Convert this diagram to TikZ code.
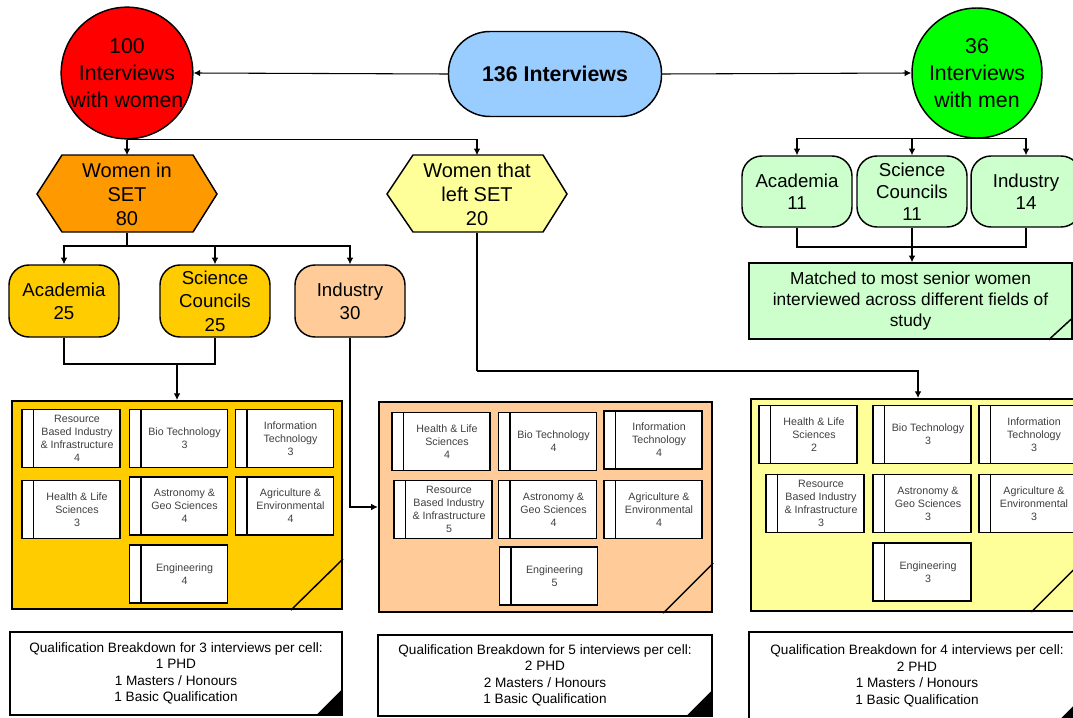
\documentclass[tikz,border=0pt]{standalone}
\usepackage{fontspec}
\setmainfont{Liberation Sans}
\usetikzlibrary{arrows.meta,calc}
\definecolor{cred}{HTML}{FF0000}
\definecolor{cgreen}{HTML}{00FF00}
\definecolor{cblue}{HTML}{99CCFF}
\definecolor{corange}{HTML}{FF9900}
\definecolor{cgold}{HTML}{FFCC00}
\definecolor{cpeach}{HTML}{FFCC99}
\definecolor{cyel}{HTML}{FFFF99}
\definecolor{cmint}{HTML}{CCFFCC}
\definecolor{ctext}{HTML}{404040}
\tikzset{
 conn/.style={draw=black, line width=0.8pt},
 arr/.style={conn, -{Latex[length=5pt,width=5pt]}},
 bigcirc/.style={circle, draw, line width=1.1pt, minimum size=97.5pt, inner sep=0pt, align=center, font=\fontsize{16}{20}\selectfont},
 roundbox/.style={rectangle, rounded corners=15pt, draw, line width=1.1pt, minimum width=82.5pt, minimum height=54pt, inner sep=0pt, align=center, font=\fontsize{14}{17.5}\selectfont},
 hexshape/.style={draw, line width=1.1pt},
 hextext/.style={minimum width=135pt, minimum height=57.75pt, inner sep=0pt, align=center, font=\fontsize{15}{18}\selectfont},
 panelbox/.style={draw, line width=1.5pt, inner sep=0pt},
 cellbox/.style={draw, line width=0.8pt, fill=white, minimum width=73.5pt, minimum height=43.5pt, inner sep=0pt},
 celltext/.style={align=center, text=ctext, font=\fontsize{8}{9.75}\selectfont, inner sep=0pt},
 notebox/.style={draw, line width=1.1pt, fill=white, inner sep=0pt, align=center, font=\fontsize{10.2}{12.4}\selectfont},
 fold/.style={line width=1.1pt},
 stripe/.style={line width=1.3pt},
}
\newcommand\cell[4]{%
  \node[cellbox] (#1) at (#2,#3) {};
  \draw[stripe] ([xshift=9pt]#1.north west) -- ([xshift=9pt]#1.south west);
  \node[celltext] (#1t) at ([xshift=4.5pt]#1.center) {#4};
}
\begin{document}
\begin{tikzpicture}[x=0.75pt,y=-0.75pt]
\useasboundingbox (0,0) rectangle (1073,717);
% top level
\node[bigcirc, fill=cred] (women) at (127,73) {100\\Interviews\\with women};
\node[rectangle, rounded corners=31pt, draw, line width=1.1pt, fill=cblue, minimum width=159.75pt, minimum height=63.75pt, inner sep=0pt, font=\bfseries\fontsize{16}{20}\selectfont] (total) at (555,74) {136 Interviews};
\node[bigcirc, fill=cgreen] (men) at (977,73) {36\\Interviews\\with men};
% hexagons
\draw[hexshape, fill=corange] (37,194) -- (62,155) -- (193,155) -- (217,194) -- (193,232) -- (62,232) -- cycle;
\node[hextext] (wset) at (127,194) {Women in\\SET\\80};
\draw[hexshape, fill=cyel] (387,194) -- (413,155) -- (543,155) -- (567,194) -- (543,232) -- (413,232) -- cycle;
\node[hextext] (wleft) at (477,194) {Women that\\left SET\\20};
% women sectors
\node[roundbox, fill=cgold] (acad) at (64,301) {Academia\\25};
\node[roundbox, fill=cgold] (sci) at (215,301) {Science\\Councils\\25};
\node[roundbox, fill=cpeach] (ind) at (350,301) {Industry\\30};
% men sectors
\node[roundbox, fill=cmint, minimum height=53.25pt, font=\fontsize{14}{16.5}\selectfont] (mac) at (797,191.5) {Academia\\11};
\node[roundbox, fill=cmint, minimum height=53.25pt, font=\fontsize{14}{16.5}\selectfont] (msci) at (912,191.5) {Science\\Councils\\11};
\node[roundbox, fill=cmint, minimum height=53.25pt, font=\fontsize{14}{16.5}\selectfont] (mind) at (1026,191.5) {Industry\\14};
\node[rectangle, draw, line width=1.1pt, fill=cmint, minimum width=242.25pt, minimum height=57pt, inner sep=0pt, align=center, font=\fontsize{13}{16}\selectfont] (match) at (910.5,301) {Matched to most senior women\\interviewed across different fields of\\study};
\draw[fold] ([xshift=-18pt]match.south east) -- ([yshift=16.5pt]match.south east);
% panels
\node[panelbox, fill=cgold, minimum width=247.5pt, minimum height=156pt] (lpanel) at (177,505) {};
\node[panelbox, fill=cpeach, line width=1.8pt, minimum width=249.75pt, minimum height=157.5pt] (mpanel) at (545.5,507) {};
\node[panelbox, fill=cyel, minimum width=250.5pt, minimum height=159pt] (rpanel) at (918,505) {};
\draw[fold] ([xshift=-39pt]lpanel.south east) -- ([yshift=38.25pt]lpanel.south east);
\draw[fold] ([xshift=-37.5pt]mpanel.south east) -- ([yshift=37.5pt]mpanel.south east);
\draw[fold] ([xshift=-41pt]rpanel.south east) -- ([yshift=41pt]rpanel.south east);
% left cells
\cell{l1}{71}{438.5}{Resource\\Based Industry\\\& Infrastructure\\4}
\cell{l2}{178.5}{438.5}{Bio Technology\\3}
\cell{l3}{284.5}{438.5}{Information\\Technology\\3}
\cell{l4}{71}{509.5}{Health \& Life\\Sciences\\3}
\cell{l5}{178.5}{506}{Astronomy \&\\Geo Sciences\\4}
\cell{l6}{284.5}{506}{Agriculture \&\\Environmental\\4}
\cell{l7}{178.5}{574}{Engineering\\4}
% middle cells
\cell{m1}{441}{441.5}{Health \& Life\\Sciences\\4}
\cell{m2}{547.5}{441.5}{Bio Technology\\4}
\cell{m3}{653}{440}{Information\\Technology\\4}
\cell{m4}{443}{509.5}{Resource\\Based Industry\\\& Infrastructure\\5}
\cell{m5}{547.5}{509.5}{Astronomy \&\\Geo Sciences\\4}
\cell{m6}{653}{509.5}{Agriculture \&\\Environmental\\4}
\cell{m7}{548.5}{576}{Engineering\\5}
% right cells
\cell{r1}{808}{434.5}{Health \& Life\\Sciences\\2}
\cell{r2}{922}{434.5}{Bio Technology\\3}
\cell{r3}{1028}{434.5}{Information\\Technology\\3}
\cell{r4}{815}{503.5}{Resource\\Based Industry\\\& Infrastructure\\3}
\cell{r5}{922}{503.5}{Astronomy \&\\Geo Sciences\\3}
\cell{r6}{1028}{503.5}{Agriculture \&\\Environmental\\3}
\cell{r7}{922}{572}{Engineering\\3}
% notes
\node[notebox, minimum width=249pt, minimum height=62.25pt] (nl) at (176,673.5) {Qualification Breakdown for 3 interviews per cell:\\1 PHD\\1 Masters / Honours\\1 Basic Qualification};
\node[notebox, minimum width=250.5pt, minimum height=60.75pt] (nm) at (545,675.5) {Qualification Breakdown for 5 interviews per cell:\\2 PHD\\2 Masters / Honours\\1 Basic Qualification};
\node[notebox, minimum width=252pt, minimum height=66pt] (nr) at (917,676) {Qualification Breakdown for 4 interviews per cell:\\2 PHD\\1 Masters / Honours\\1 Basic Qualification};
\foreach \n in {nl,nm,nr}{
  \fill ([xshift=-20.25pt]\n.south east) -- (\n.south east) -- ([yshift=20.25pt]\n.south east) -- cycle;
}
% connectors
\draw[arr] (total.west) -- (women.east);
\draw[arr] (total.east) -- (men.west);
\draw[arr] (women.south) -- (wset.north);
\draw[arr] (women.south) -| (wleft.north);
\coordinate (j1) at (127,246);
\draw[conn] (wset.south) -- (j1);
\draw[arr] (j1) -| (acad.north);
\draw[arr] (j1) -| (sci.north);
\draw[arr] (j1) -| (ind.north);
\coordinate (j2) at (177,364);
\draw[conn] (acad.south) |- (j2);
\draw[conn] (sci.south) |- (j2);
\draw[arr] (j2) -- (j2 |- lpanel.north);
\draw[arr] (ind.south) |- (mpanel.west);
\coordinate (j3) at (477,371);
\draw[conn] (wleft.south) -- (j3);
\draw[arr] (j3) -| (rpanel.north);
\draw[arr] (men.south) -| (mac.north);
\draw[arr] (men.south) -| (msci.north);
\draw[arr] (men.south) -| (mind.north);
\coordinate (j5) at (912,247);
\draw[conn] (mac.south) |- (j5);
\draw[conn] (mind.south) |- (j5);
\draw[arr] (msci.south) -- (msci.south |- match.north);
\end{tikzpicture}
\end{document}
